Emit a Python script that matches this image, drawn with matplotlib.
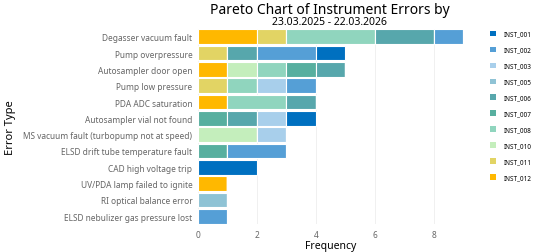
import matplotlib
matplotlib.use('Agg')
import matplotlib.pyplot as plt
import matplotlib.patches as patches
import numpy as np

plt.rcParams['font.family'] = ['Noto Sans', 'DejaVu Sans']

# Data
errors = ['Degasser vacuum fault', 'Pump overpressure', 'Autosampler door open',
          'Pump low pressure', 'PDA ADC saturation', 'Autosampler vial not found',
          'MS vacuum fault (turbopump not at speed)', 'ELSD drift tube temperature fault',
          'CAD high voltage trip', 'UV/PDA lamp failed to ignite',
          'RI optical balance error', 'ELSD nebulizer gas pressure lost']
instruments = ['INST_001', 'INST_002', 'INST_003', 'INST_005', 'INST_006',
               'INST_007', 'INST_008', 'INST_010', 'INST_011', 'INST_012']
colors = ['#0070C0', '#559FD6', '#A8CFEB', '#8FC3D5', '#57A7AC',
          '#57AF9F', '#90D5BE', '#C4EEBC', '#E2D464', '#FFB800']
# counts per instrument, one entry per error type (same order as errors)
inst_001 = [0, 1, 0, 0, 0, 1, 0, 0, 2, 0, 0, 0]
inst_002 = [1, 2, 0, 1, 0, 0, 0, 2, 0, 0, 0, 1]
inst_003 = [0, 0, 0, 1, 0, 1, 1, 0, 0, 0, 0, 0]
inst_005 = [0, 0, 0, 0, 0, 0, 0, 0, 0, 0, 1, 0]
inst_006 = [2, 1, 1, 0, 1, 1, 0, 0, 0, 0, 0, 0]
inst_007 = [0, 0, 1, 0, 0, 1, 0, 1, 0, 0, 0, 0]
inst_008 = [3, 0, 1, 1, 2, 0, 0, 0, 0, 0, 0, 0]
inst_010 = [0, 0, 1, 0, 0, 0, 2, 0, 0, 0, 0, 0]
inst_011 = [1, 1, 0, 1, 0, 0, 0, 0, 0, 0, 0, 0]
inst_012 = [2, 0, 1, 0, 1, 0, 0, 0, 0, 1, 0, 0]
counts = [inst_001, inst_002, inst_003, inst_005, inst_006,
          inst_007, inst_008, inst_010, inst_011, inst_012]

fig = plt.figure(figsize=(5.4, 2.53), dpi=100)
ax = fig.add_axes([198 / 540, 28 / 253, 265 / 540, 195 / 253])

y = np.arange(len(errors))
left = np.zeros(len(errors))
# stack from INST_012 down to INST_001
for name, col, vals in reversed(list(zip(instruments, colors, counts))):
    vals = np.array(vals, dtype=float)
    ax.barh(y, vals, left=left, height=0.9, color=col, edgecolor='white',
            linewidth=0.8, zorder=3)
    left += vals

ax.set_ylim(11.47, -0.47)
ax.set_xlim(0, 9)
ax.set_yticks(y)
ax.set_yticklabels(errors)
ax.set_xticks([0, 2, 4, 6, 8])
ax.tick_params(axis='both', length=0, labelsize=6, colors='#666666', pad=4)
ax.grid(axis='x', color='#EEEEEE', linewidth=0.6, zorder=0)
for s in ax.spines.values():
    s.set_visible(False)
ax.set_xlabel('Frequency', fontsize=7.5, labelpad=1)
ax.set_ylabel('Error Type', fontsize=8)
ax.yaxis.set_label_coords(-0.685, 0.5)

fig.text(0.61, 0.96, 'Pareto Chart of Instrument Errors by', fontsize=10,
         ha='center', va='center')
fig.text(0.61, 0.91, '23.03.2025 - 22.03.2026', fontsize=7.5,
         ha='center', va='center')

handles = [patches.Rectangle((0, 0), 1, 1, facecolor=c, edgecolor='none')
           for c in colors]
fig.legend(handles, instruments, loc='upper left', bbox_to_anchor=(0.903, 0.885),
           frameon=False, fontsize=4.6, handlelength=0.85, handleheight=0.95,
           labelspacing=1.4, handletextpad=1.3, borderaxespad=0)

fig.savefig('out.png', dpi=100, facecolor='white')
